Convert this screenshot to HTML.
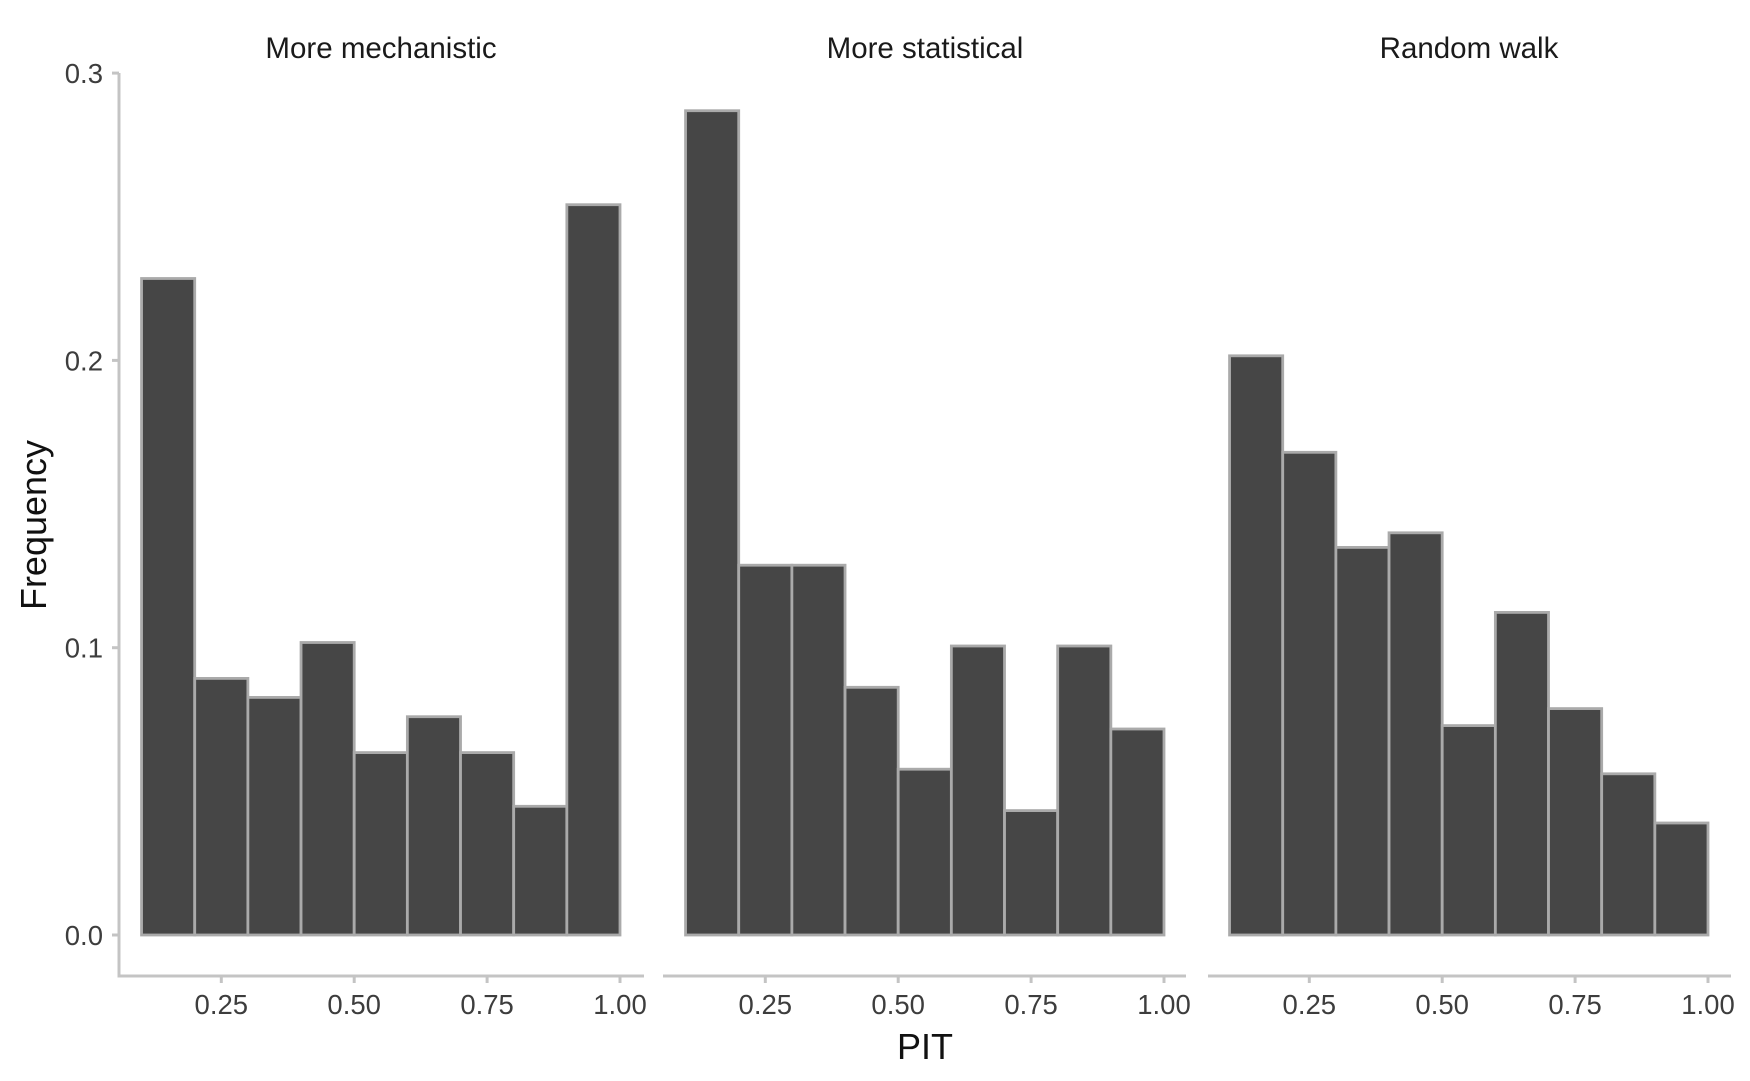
<!DOCTYPE html>
<html><head><meta charset="utf-8"><style>body{margin:0;background:#fff}svg{display:block}</style></head><body>
<svg width="1750" height="1081" xmlns="http://www.w3.org/2000/svg" font-family="Liberation Sans, sans-serif">
<defs>
<g id="xt">
<line x1="221.3" y1="976" x2="221.3" y2="983" stroke="#c4c4c4" stroke-width="3"/>
<line x1="354.2" y1="976" x2="354.2" y2="983" stroke="#c4c4c4" stroke-width="3"/>
<line x1="487.1" y1="976" x2="487.1" y2="983" stroke="#c4c4c4" stroke-width="3"/>
<line x1="620" y1="976" x2="620" y2="983" stroke="#c4c4c4" stroke-width="3"/>
<g font-size="27.5" fill="#3d3d3d" text-anchor="middle">
<text x="221.3" y="1014">0.25</text><text x="354.2" y="1014">0.50</text><text x="487.1" y="1014">0.75</text><text x="620" y="1014">1.00</text>
</g>
</g>
</defs>
<g fill="#464646" stroke="#aaaaaa" stroke-width="2.8">
<rect x="141.56" y="278.5" width="53.16" height="656.5"/>
<rect x="194.72" y="678.4" width="53.16" height="256.6"/>
<rect x="247.88" y="697.4" width="53.16" height="237.6"/>
<rect x="301.04" y="642.5" width="53.16" height="292.5"/>
<rect x="354.2" y="752.6" width="53.16" height="182.4"/>
<rect x="407.36" y="716.7" width="53.16" height="218.3"/>
<rect x="460.52" y="752.6" width="53.16" height="182.4"/>
<rect x="513.68" y="806.3" width="53.16" height="128.7"/>
<rect x="566.84" y="204.7" width="53.16" height="730.3"/>
<g transform="translate(544,0)">
<rect x="141.56" y="110.7" width="53.16" height="824.3"/>
<rect x="194.72" y="565.2" width="53.16" height="369.8"/>
<rect x="247.88" y="565.2" width="53.16" height="369.8"/>
<rect x="301.04" y="687.3" width="53.16" height="247.7"/>
<rect x="354.2" y="769.2" width="53.16" height="165.8"/>
<rect x="407.36" y="646" width="53.16" height="289"/>
<rect x="460.52" y="810.6" width="53.16" height="124.4"/>
<rect x="513.68" y="646" width="53.16" height="289"/>
<rect x="566.84" y="729" width="53.16" height="206"/>
</g>
<g transform="translate(1088,0)">
<rect x="141.56" y="355.8" width="53.16" height="579.2"/>
<rect x="194.72" y="452.3" width="53.16" height="482.7"/>
<rect x="247.88" y="547.4" width="53.16" height="387.6"/>
<rect x="301.04" y="532.8" width="53.16" height="402.2"/>
<rect x="354.2" y="725.6" width="53.16" height="209.4"/>
<rect x="407.36" y="612.4" width="53.16" height="322.6"/>
<rect x="460.52" y="708.6" width="53.16" height="226.4"/>
<rect x="513.68" y="773.8" width="53.16" height="161.2"/>
<rect x="566.84" y="823" width="53.16" height="112"/>
</g>
</g>
<g stroke="#c4c4c4" stroke-width="3">
<line x1="119" y1="976" x2="644" y2="976"/>
<line x1="663" y1="976" x2="1186" y2="976"/>
<line x1="1208" y1="976" x2="1731" y2="976"/>
<line x1="119" y1="73" x2="119" y2="977.5"/>
<line x1="112" y1="935" x2="119" y2="935"/>
<line x1="112" y1="647.7" x2="119" y2="647.7"/>
<line x1="112" y1="360.4" x2="119" y2="360.4"/>
<line x1="112" y1="73.1" x2="119" y2="73.1"/>
</g>
<use href="#xt"/>
<use href="#xt" transform="translate(544,0)"/>
<use href="#xt" transform="translate(1088,0)"/>
<g font-size="27.5" fill="#3d3d3d" text-anchor="end">
<text x="103" y="945">0.0</text>
<text x="103" y="657.7">0.1</text>
<text x="103" y="370.4">0.2</text>
<text x="103" y="83.1">0.3</text>
</g>
<g font-size="29.5" fill="#1a1a1a" text-anchor="middle">
<text x="381" y="58">More mechanistic</text>
<text x="925" y="58">More statistical</text>
<text x="1469" y="58">Random walk</text>
</g>
<text x="925" y="1059" font-size="36" fill="#111" text-anchor="middle">PIT</text>
<text transform="translate(46,525) rotate(-90)" font-size="36" fill="#111" text-anchor="middle">Frequency</text>
</svg>
</body></html>
